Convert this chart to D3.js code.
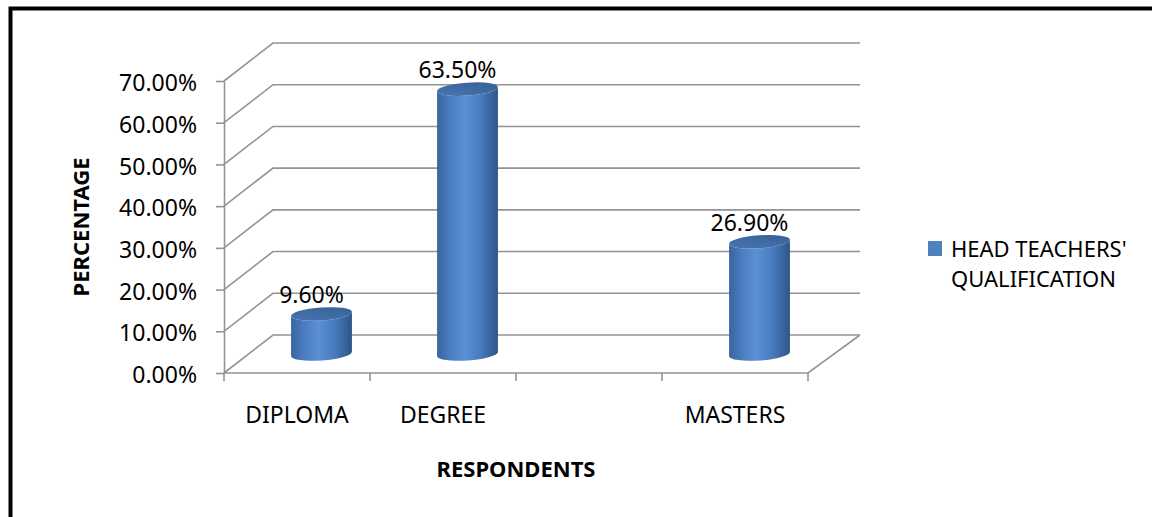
<!DOCTYPE html>
<html><head><meta charset="utf-8">
<script src="https://cdn.jsdelivr.net/npm/d3@7"></script>
<style>
html,body{margin:0;padding:0;background:#fff;}
svg{display:block;font-family:"Noto Sans",sans-serif;}
</style></head>
<body>
<svg id="chart" width="1152" height="517"></svg>
<script>
const categories = ["DIPLOMA", "DEGREE", "", "MASTERS"];
const values = [0.096, 0.635, null, 0.269];
const valueLabels = ["9.60%", "63.50%", "", "26.90%"];
const yTicks = [0, 0.1, 0.2, 0.3, 0.4, 0.5, 0.6, 0.7];
const seriesName = ["HEAD TEACHERS'", "QUALIFICATION"];
const xTitle = "RESPONDENTS";
const yTitle = "PERCENTAGE";

const svg = d3.select("#chart");
const depthX = 49, depthY = -38;
const x = d3.scaleBand().domain(categories.map((c,i)=>i)).range([224, 808]).padding(0);
const y = d3.scaleLinear().domain([0, 0.7]).range([373, 81]);
const backRight = 860;
const grid = "#949494";

// border
svg.append("path").attr("d","M10.5,1000 L10.5,8.5 L1200,8.5").attr("fill","none")
  .attr("stroke","#000").attr("stroke-width",4);

// back wall gridlines
const gg = svg.append("g").attr("stroke", grid).attr("stroke-width", 1.6).attr("fill","none");
yTicks.forEach(t => {
  const fy = y(t);
  gg.append("path").attr("d", `M224,${fy} L${224+depthX},${fy+depthY} L${backRight},${fy+depthY}`);
});
// floor front and right edges
gg.append("path").attr("d", `M224,${y(0)} L808,${y(0)} L${backRight},${y(0)+depthY}`);
// x ticks at band boundaries
const bounds = categories.map((c,i)=>x(i)).concat([x(categories.length-1)+x.bandwidth()]);
bounds.forEach(b => gg.append("line").attr("x1",b).attr("x2",b).attr("y1",y(0)).attr("y2",y(0)+8));

// y axis
const yAxis = d3.axisLeft(y).tickValues(yTicks).tickFormat(d3.format(".2%")).tickSize(8).tickSizeOuter(0).tickPadding(19);
const ya = svg.append("g").attr("transform","translate(224,0)").call(yAxis);
ya.select(".domain").attr("stroke", grid).attr("stroke-width",1.6);
ya.selectAll(".tick line").attr("stroke", grid).attr("stroke-width",1.6);
ya.selectAll(".tick text").attr("font-family","Noto Sans").attr("font-size",23).attr("fill","#000").attr("dy","0.42em");

// category labels
svg.append("g").selectAll("text").data(categories).join("text")
  .attr("x",(d,i)=>x(i)+x.bandwidth()/2).attr("y",423)
  .attr("text-anchor","middle").attr("font-size",23).attr("fill","#000").text(d=>d);

// gradients
const defs = svg.append("defs");
const bg = defs.append("linearGradient").attr("id","body").attr("x1","0").attr("x2","1").attr("y1","0").attr("y2","0");
[["0%","#3a659f"],["20%","#4a7bbd"],["45%","#5b90d6"],["70%","#4a7cbf"],["100%","#2d5588"]].forEach(s=>bg.append("stop").attr("offset",s[0]).attr("stop-color",s[1]));
const tg = defs.append("linearGradient").attr("id","top").attr("x1","0").attr("x2","1").attr("y1","1").attr("y2","0");
[["0%","#4876b3"],["100%","#375f94"]].forEach(s=>tg.append("stop").attr("offset",s[0]).attr("stop-color",s[1]));

// cylinders
const rx = 30.5, ry = 6.5, rot = -4;
const th = rot*Math.PI/180;
const bars = svg.append("g");
values.forEach((v,i) => {
  if (v == null) return;
  const cx = x(i) + x.bandwidth()/2 + depthX/2;
  const yb = y(0) + depthY/2;
  const yt = y(v) + depthY/2;
  const ex = rx*Math.cos(th), ey = rx*Math.sin(th);
  const d = `M${cx-ex},${yt-ey} L${cx-ex},${yb-ey} A${rx},${ry} ${rot} 0 0 ${cx+ex},${yb+ey} L${cx+ex},${yt+ey} A${rx},${ry} ${rot} 0 1 ${cx-ex},${yt-ey} Z`;
  bars.append("path").attr("d",d).attr("fill","url(#body)");
  bars.append("ellipse").attr("cx",cx).attr("cy",yt).attr("rx",rx).attr("ry",ry)
    .attr("transform",`rotate(${rot},${cx},${yt})`).attr("fill","url(#top)");
  svg.append("text").attr("x",cx-10).attr("y",yt-11).attr("text-anchor","middle")
    .attr("font-size",23).attr("fill","#000").text(valueLabels[i]);
});

// axis titles
svg.append("text").attr("transform","translate(89,227) rotate(-90)").attr("text-anchor","middle")
  .attr("font-size",22).attr("font-weight","bold").text(yTitle);
svg.append("text").attr("x",516).attr("y",477).attr("text-anchor","middle")
  .attr("font-size",22).attr("font-weight","bold").text(xTitle);

// legend
svg.append("rect").attr("x",928).attr("y",241).attr("width",14).attr("height",15).attr("fill","#4f81bd");
svg.append("g").selectAll("text").data(seriesName).join("text")
  .attr("x",951).attr("y",(d,i)=>257+i*30).attr("font-size",22).attr("fill","#000").text(d=>d);
</script>
</body></html>
